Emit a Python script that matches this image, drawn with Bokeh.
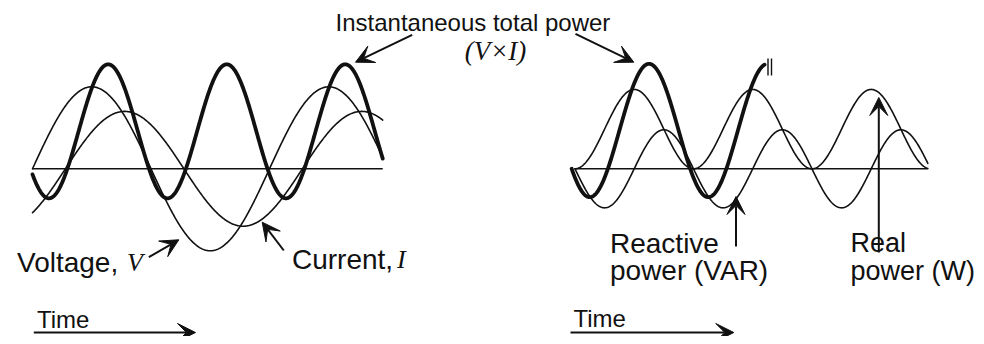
import numpy as np
from bokeh.plotting import figure
from bokeh.models import Range1d, Arrow, VeeHead
from bokeh.core.properties import value
from bokeh.embed import file_html
from bokeh.resources import INLINE

# ---------------- data (electrical angle in degrees, amplitude in units of peak voltage) ----
left_span_deg = [0, 532]
right_span_deg = [0, 536]
right_total_span_deg = [-5, 288]

# left panel: voltage, current, instantaneous power
left_names = ["Voltage", "Current", "Power"]
left_amplitudes = [1.00, 0.70, 0.817]
left_offsets = [0.0, 0.0, 0.457]
left_phases_deg = [0.0, -50.0, -140.0]      # current lags voltage by 50 deg
left_harmonic = [1, 1, 2]

# right panel: real power, reactive power, total power
right_names = ["Real", "Reactive", "Total"]
right_amplitudes = [0.484, 0.476, 0.813]
right_offsets = [0.484, 0.0, 0.467]
right_phases_deg = [-90.0, 180.0, -135.0]
right_harmonic = [2, 2, 2]

labels_left = ["Voltage, ", "V", "Current, ", "I"]
labels_right = ["Reactive", "power (VAR)", "Real", "power (W)"]
title_lines = ["Instantaneous total power", "(V×I)"]
time_label = "Time"

# ---------------- layout constants ---------------------------------------------------------
K = 237.0 / 360.0      # px per degree
U = 82.0               # px per amplitude unit
X0 = 32.0              # left panel origin (px)
Y0 = 168.3             # baseline (px)
RIGHT_ORIGIN = 824.0   # right panel origin in degrees
W, H = 976, 336
TEXT_DY = -9.0


def X(px):
    return (px - X0) / K


def Y(py):
    return (Y0 - py) / U


p = figure(width=W, height=H, output_backend="svg", toolbar_location=None,
           x_range=Range1d(X(0), X(W)), y_range=Range1d(Y(H), Y(0)),
           min_border=0, background_fill_color="white", border_fill_color="white")
p.xaxis.visible = False
p.yaxis.visible = False
p.grid.visible = False
p.outline_line_color = None

INK = "#111111"


def wave(theta, amp, off, ph, h):
    return off + amp * np.sin(np.radians(h * theta + ph))


# baselines
for x0, span in [(0.0, left_span_deg), (RIGHT_ORIGIN, right_span_deg)]:
    p.line([x0 + span[0], x0 + span[1]], [0, 0], line_color=INK, line_width=1.4)

# left curves
th = np.linspace(left_span_deg[0], left_span_deg[1], 600)
for name, a, o, ph, h in zip(left_names, left_amplitudes, left_offsets, left_phases_deg, left_harmonic):
    y = wave(th, a, o, ph, h)
    lw = 3.8 if name == "Power" else 1.6
    p.line(th, y, line_color=INK, line_width=lw, line_join="round", line_cap="round")

# right curves
for name, a, o, ph, h in zip(right_names, right_amplitudes, right_offsets, right_phases_deg, right_harmonic):
    span = right_total_span_deg if name == "Total" else right_span_deg
    t = np.linspace(span[0], span[1], 600)
    y = wave(t, a, o, ph, h)
    lw = 3.8 if name == "Total" else 1.6
    p.line(RIGHT_ORIGIN + t, y, line_color=INK, line_width=lw, line_join="round", line_cap="round")

# break mark at the end of the total power curve
p.segment(x0=[X(767.5), X(771.0)], y0=[Y(58), Y(58)], x1=[X(767.5), X(771.0)], y1=[Y(75), Y(75)],
          line_color=INK, line_width=1.4)

# arrows
arrows = [
    ((411.7, 34.3), (355.0, 61.7)),
    ((575.0, 33.3), (633.3, 61.7)),
    ((148.3, 256.7), (178.3, 239.3)),
    ((283.3, 250.0), (261.7, 221.7)),
    ((735.5, 246.0), (735.5, 196.0)),
    ((878.3, 252.0), (878.3, 97.0)),
    ((33.3, 332.0), (195.0, 332.0)),
    ((570.0, 332.0), (733.3, 332.0)),
]
for (xs, ys), (xe, ye) in arrows:
    p.add_layout(Arrow(end=VeeHead(size=18, fill_color=INK, line_color=INK, line_width=1),
                       x_start=X(xs), y_start=Y(ys), x_end=X(xe), y_end=Y(ye),
                       line_color=INK, line_width=2.0))

SANS = value("Liberation Sans")
SERIF = value("Liberation Serif")


def txt(x, y, s, size, font=SANS, style="normal", align="left"):
    p.text(x=[X(x)], y=[Y(y + TEXT_DY)], text=[s], text_font=font, text_font_size=f"{size}px",
           text_font_style=style, text_align=align, text_baseline="alphabetic", text_color=INK)


txt(335, 30.5, title_lines[0], 24)
txt(495, 59.5, title_lines[1], 27, font=SERIF, style="italic", align="center")

txt(16.5, 271.0, labels_left[0], 28)
txt(126.5, 271.0, labels_left[1], 26, font=SERIF, style="italic")
txt(291.5, 268.0, labels_left[2], 28)
txt(396.5, 268.0, labels_left[3], 26, font=SERIF, style="italic")

txt(609.5, 251.5, labels_right[0], 28)
txt(609.5, 279.0, labels_right[1], 28)
txt(850.0, 251.5, labels_right[2], 27)
txt(850.0, 279.0, labels_right[3], 27)

txt(36.5, 327.5, time_label, 24)
txt(573.0, 326.5, time_label, 24)

open("out.html", "w").write(file_html(p, INLINE))
